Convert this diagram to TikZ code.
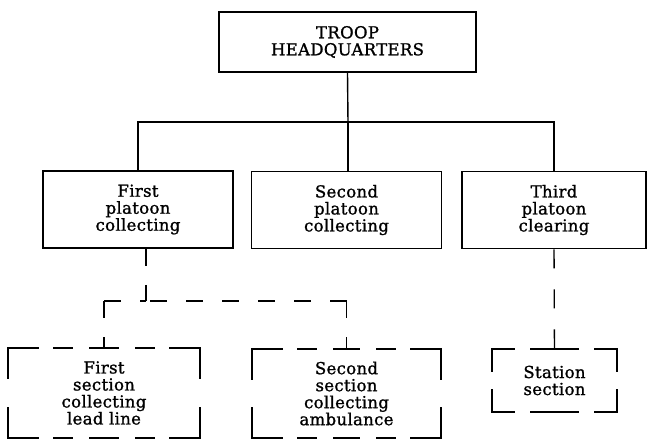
\documentclass[tikz,border=0pt]{standalone}
\usepackage{fontspec}
\setmainfont[LetterSpace=2,FakeBold=1.2]{DejaVu Serif}

% broken frame of a section, corners kept whole
\newcommand\sectionframe[2]{%
  \foreach \c/\m in {north west/north,north west/west,north east/north,north east/east,
                     south west/south,south west/west,south east/south,south east/east}
    \draw[line width=1.9pt,line cap=rect,dash pattern=#2] (#1.\c) -- (#1.\m);}

\begin{document}
\begin{tikzpicture}[x=1pt,y=-1pt,
    unit/.style={draw,line width=1.9pt,align=center,inner sep=0pt,
      font=\fontsize{16.5}{17}\selectfont},
    section/.style={unit,draw=none,outer sep=0pt},
    link/.style={line width=1.4pt},
    dlink/.style={link,dash pattern=on 17pt off 19pt}]
  \useasboundingbox (0,0) rectangle (649,442);
  \coordinate (bus) at (348,122);
  \coordinate (fork) at (146,301);

  % troop and platoons
  \node[unit,minimum width=257,minimum height=60] (hq) at (347.5,42) {TROOP\\HEADQUARTERS};
  \node[unit,minimum width=190,minimum height=77] (first) at (138,209.5) {First\\platoon\\collecting};
  \node[unit,minimum width=190,minimum height=77] (second) at (346.5,210) {Second\\platoon\\collecting};
  \node[unit,minimum width=184,minimum height=77] (third) at (554,210) {Third\\platoon\\clearing};

  % sections
  \node[section,minimum width=192,minimum height=90] (lead) at (104,393) {First\\section\\collecting\\lead line};
  \node[section,minimum width=189,minimum height=89] (amb) at (346.5,393.5) {Second\\section\\collecting\\ambulance};
  \node[section,minimum width=125,minimum height=63] (station) at (554.5,380.5) {Station\\section};
  \sectionframe{lead}{on 30pt off 16pt on 18pt off 18pt on 100pt}
  \sectionframe{amb}{on 30pt off 16pt on 18pt off 18pt on 100pt}
  \sectionframe{station}{on 22pt off 17pt on 100pt}

  \draw[link] (hq.south) -- (bus);
  \draw[link] (first.north) |- (bus) -| (third.north);
  \draw[link] (bus) -- (bus |- second.north);

  \draw[dlink] (fork |- first.south) -- (fork);
  \draw[dlink] (lead.north |- fork) -- (lead.north);
  \draw[dlink] (lead.north |- fork) -- (fork);
  \draw[dlink] (amb.north |- fork) -- (fork);
  \draw[dlink] (amb.north |- fork) -- (amb.north);
  \draw[link,dash pattern=on 19pt off 21pt] (third.south) -- (station.north);
\end{tikzpicture}
\end{document}
